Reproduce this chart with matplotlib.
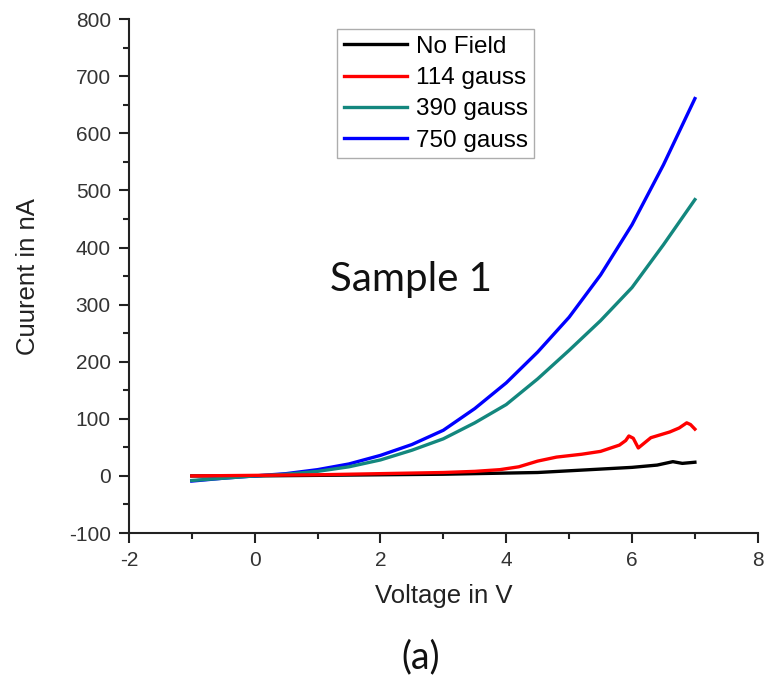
import matplotlib
matplotlib.use("Agg")
import matplotlib.pyplot as plt
from matplotlib.ticker import MultipleLocator

plt.rcParams["axes.unicode_minus"] = False

# Voltage sweep (V) and measured currents (nA)
v_smooth = [-1.0, -0.5, 0.0, 0.5, 1.0, 1.5, 2.0, 2.5, 3.0, 3.5, 4.0, 4.5, 5.0, 5.5, 6.0, 6.5, 7.0]
i_390 = [-8, -4, 0, 3, 8, 16, 28, 45, 65, 93, 125, 170, 220, 272, 330, 405, 484]
i_750 = [-9, -4, 0, 4, 11, 21, 36, 55, 80, 118, 163, 217, 278, 352, 440, 545, 661]

v_red = [-1.0, 0.0, 1.0, 2.0, 2.5, 3.0, 3.5, 3.9, 4.2, 4.5, 4.8, 5.2, 5.5, 5.8, 5.9, 5.95,
         6.02, 6.1, 6.2, 6.3, 6.45, 6.6, 6.75, 6.87, 6.93, 7.0]
i_114 = [0, 1, 2, 4, 5, 6, 8, 11, 16, 26, 33, 38, 43, 54, 62, 70,
         66, 49, 58, 67, 72, 77, 84, 93, 90, 82]

v_black = [-1.0, 0.0, 1.0, 2.0, 3.0, 4.0, 4.5, 5.0, 5.5, 6.0, 6.4, 6.65, 6.8, 7.0]
i_none = [0, 0, 1, 2, 3, 5, 6, 9, 12, 15, 19, 25, 22, 24]

x_ticks = [-2, 0, 2, 4, 6, 8]
y_ticks = [-100, 0, 100, 200, 300, 400, 500, 600, 700, 800]

tick_font = "Liberation Sans"

fig = plt.figure(figsize=(7.67, 6.86), dpi=100)
ax = fig.add_axes([0.168, 0.223, 0.82, 0.749])

lw = 2.4
ax.plot(v_black, i_none, color="black", lw=lw, label="No Field", zorder=2)
ax.plot(v_red, i_114, color="#ff0000", lw=lw, label="114 gauss", zorder=4)
ax.plot(v_smooth, i_390, color="#13877e", lw=lw, label="390 gauss", zorder=3)
ax.plot(v_smooth, i_750, color="#0000ff", lw=lw, label="750 gauss", zorder=2.5)

ax.set_xlim(-2, 8)
ax.set_ylim(-100, 800)
ax.set_xticks(x_ticks)
ax.set_yticks(y_ticks)
ax.xaxis.set_minor_locator(MultipleLocator(1))
ax.yaxis.set_minor_locator(MultipleLocator(50))

for side in ("top", "right"):
    ax.spines[side].set_visible(False)
for side in ("left", "bottom"):
    ax.spines[side].set_linewidth(1.5)
    ax.spines[side].set_color("#222222")

ax.tick_params(which="major", direction="out", length=7, width=1.5, color="#222222",
               labelsize=15, labelcolor="#333333", pad=6)
ax.tick_params(which="minor", direction="out", length=4, width=1.5, color="#222222")
for lab in ax.get_xticklabels() + ax.get_yticklabels():
    lab.set_fontfamily(tick_font)

ax.set_xlabel("Voltage in V", fontsize=18.5, family=tick_font, color="#222222", labelpad=10)
ax.set_ylabel("Cuurent in nA", fontsize=18.5, family=tick_font, color="#222222", labelpad=21)

ax.text(2.48, 344, "Sample 1", fontsize=29, family="Lato", color="#111111",
        ha="center", va="center")

fig.text(0.548, 0.042, "(a)", fontsize=27, family="Lato", color="#111111",
         ha="center", va="center")

leg = ax.legend(loc="upper left", bbox_to_anchor=(337 / 767, 1 - 29 / 686),
                bbox_transform=fig.transFigure, frameon=True, fancybox=False,
                prop={"family": tick_font, "size": 17.5}, handlelength=2.6,
                handletextpad=0.35, borderpad=0.28, labelspacing=0.38,
                borderaxespad=0)
leg.get_frame().set_edgecolor("#999999")
leg.get_frame().set_linewidth(1.0)

fig.savefig("out.png", dpi=100)
